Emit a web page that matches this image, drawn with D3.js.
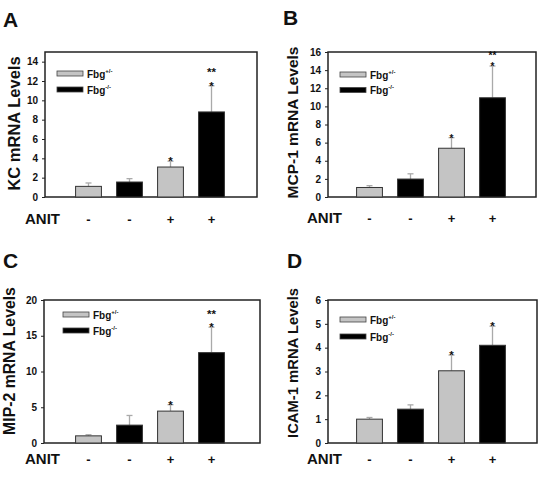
<!DOCTYPE html>
<html><head><meta charset="utf-8">
<script src="https://cdn.jsdelivr.net/npm/d3@7"></script>
<style>body{margin:0;background:#fff}svg{display:block;font-family:"Liberation Sans",Arial,sans-serif;font-weight:bold}</style>
</head><body><svg id="c" width="538" height="477"></svg>
<script>
const groups = ["g1","g2","g3","g4"];
const genotypes = ["het","ko","het","ko"];
const anitLabels = ["-","-","+","+"];
const legendLabels = ["+/-","-/-"];

const kcMeans = [1.1, 1.55, 3.1, 8.8];
const kcErr = [0.35, 0.35, 0.6, 2.7];
const kcStars = ["", "", "*", "**|*"];
const kcTicks = [0,2,4,6,8,10,12,14];

const mcpMeans = [1.05, 1.98, 5.38, 10.95];
const mcpErr = [0.2, 0.58, 1.17, 3.5];
const mcpStars = ["", "", "*", "**|*"];
const mcpTicks = [0,2,4,6,8,10,12,14,16];

const mipMeans = [1.0, 2.5, 4.46, 12.64];
const mipErr = [0.16, 1.35, 0.9, 3.55];
const mipStars = ["", "", "*", "**|*"];
const mipTicks = [0,5,10,15,20];

const icamMeans = [1.0, 1.42, 3.03, 4.1];
const icamErr = [0.07, 0.18, 0.66, 0.8];
const icamStars = ["", "", "*", "*"];
const icamTicks = [0,1,2,3,4,5,6];

const panels = [
  {letter:"A", label:"KC mRNA Levels", means:kcMeans, err:kcErr, stars:kcStars, ticks:kcTicks, max:15,
   fx:[45,257], fy:[52,197], lx:57, ly:[73.5,89.5], letterPos:[3,27], labelX:20, labelY:123.5, labelSize:16.5, anit:[25,224], starSize:11.5, starGap:13.5},
  {letter:"B", label:"MCP-1 mRNA Levels", means:mcpMeans, err:mcpErr, stars:mcpStars, ticks:mcpTicks, max:16,
   fx:[328,536], fy:[52,197], lx:340, ly:[74.5,90], letterPos:[283,25], labelX:298, labelY:122.5, labelSize:15.5, anit:[307,223], starSize:10, starGap:11.5},
  {letter:"C", label:"MIP-2 mRNA Levels", means:mipMeans, err:mipErr, stars:mipStars, ticks:mipTicks, max:20,
   fx:[44,260], fy:[300,443], lx:63, ly:[314.5,330.5], letterPos:[3,268], labelX:15, labelY:361, labelSize:15.8, anit:[25,464], starSize:11.5, starGap:13.5},
  {letter:"D", label:"ICAM-1 mRNA Levels", means:icamMeans, err:icamErr, stars:icamStars, ticks:icamTicks, max:6,
   fx:[328,537], fy:[300,443], lx:340, ly:[319.5,336.5], letterPos:[287,268], labelX:298, labelY:363, labelSize:14.8, anit:[307,463.5], starSize:11.5, starGap:13.5}
];

const svg = d3.select("#c");
const fill = {het:"#c4c4c4", ko:"#000"};

panels.forEach(p => {
  const g = svg.append("g");
  const y = d3.scaleLinear().domain([0,p.max]).range([p.fy[1], p.fy[0]]);
  const x0 = p.fx[0] < 100 ? 47 : 328;
  const x = d3.scaleBand().domain(groups).range([x0+21, x0+185]).paddingInner(0.37).paddingOuter(0.185);

  // frame
  g.append("rect").attr("x",p.fx[0]).attr("y",p.fy[0]).attr("width",p.fx[1]-p.fx[0]).attr("height",p.fy[1]-p.fy[0])
    .attr("fill","none").attr("stroke","#222").attr("stroke-width",1.5);

  // y axis
  const ax = g.append("g").attr("transform",`translate(${p.fx[0]},0)`)
    .call(d3.axisLeft(y).tickValues(p.ticks).tickFormat(d3.format("d")).tickSize(3).tickPadding(4));
  ax.select(".domain").remove();
  ax.selectAll("text").attr("font-size",10).attr("font-weight","bold").attr("fill","#111").attr("font-family","Liberation Sans, Arial, sans-serif");
  ax.selectAll("line").attr("stroke","#222");

  // error bars
  groups.forEach((k,i) => {
    const cx = x(k) + x.bandwidth()/2;
    const top = y(p.means[i] + p.err[i]);
    g.append("line").attr("x1",cx).attr("x2",cx).attr("y1",y(p.means[i])).attr("y2",top)
      .attr("stroke","#aaa").attr("stroke-width",1.3);
    g.append("line").attr("x1",cx-3).attr("x2",cx+3).attr("y1",top).attr("y2",top)
      .attr("stroke","#aaa").attr("stroke-width",1.3);
  });

  // bars
  g.selectAll("rect.bar").data(groups).join("rect").attr("class","bar")
    .attr("x",k=>x(k)).attr("width",x.bandwidth())
    .attr("y",(k,i)=>y(p.means[i])).attr("height",(k,i)=>y(0)-y(p.means[i]))
    .attr("fill",(k,i)=>fill[genotypes[i]]).attr("stroke","#333").attr("stroke-width",1);

  // stars (stacked lines)
  groups.forEach((k,i) => {
    if(!p.stars[i]) return;
    const cx = x(k) + x.bandwidth()/2;
    const top = y(p.means[i] + p.err[i]);
    const lines = p.stars[i].split("|").reverse();
    lines.forEach((s,j) => {
      g.append("text").attr("x",cx).attr("y",top + 4 - j*p.starGap).attr("text-anchor","middle")
        .attr("font-size",p.starSize).attr("fill","#111").text(s);
    });
  });

  // legend
  ["het","ko"].forEach((gt,i) => {
    g.append("rect").attr("x",p.lx).attr("y",p.ly[i]-2.5).attr("width",26).attr("height",5)
      .attr("fill",fill[gt]).attr("stroke","#444").attr("stroke-width",0.8);
    const t = g.append("text").attr("x",p.lx+30).attr("y",p.ly[i]+4).attr("font-size",10).attr("fill","#111");
    t.append("tspan").text("Fbg");
    t.append("tspan").attr("dy",-5).attr("font-size",6).text(legendLabels[i]);
  });

  // y label
  g.append("text").attr("transform",`translate(${p.labelX},${p.labelY}) rotate(-90)`).attr("text-anchor","middle")
    .attr("font-size",p.labelSize).attr("fill","#111").text(p.label);

  // letter
  g.append("text").attr("x",p.letterPos[0]).attr("y",p.letterPos[1]).attr("font-size",21).attr("fill","#111").text(p.letter);

  // ANIT row
  g.append("text").attr("x",p.anit[0]).attr("y",p.anit[1]).attr("font-size",15).attr("fill","#111").text("ANIT");
  groups.forEach((k,i) => {
    g.append("text").attr("x",x(k)+x.bandwidth()/2).attr("y",p.anit[1]).attr("text-anchor","middle")
      .attr("font-size",13).attr("fill","#111").text(anitLabels[i]);
  });
});
</script></body></html>
